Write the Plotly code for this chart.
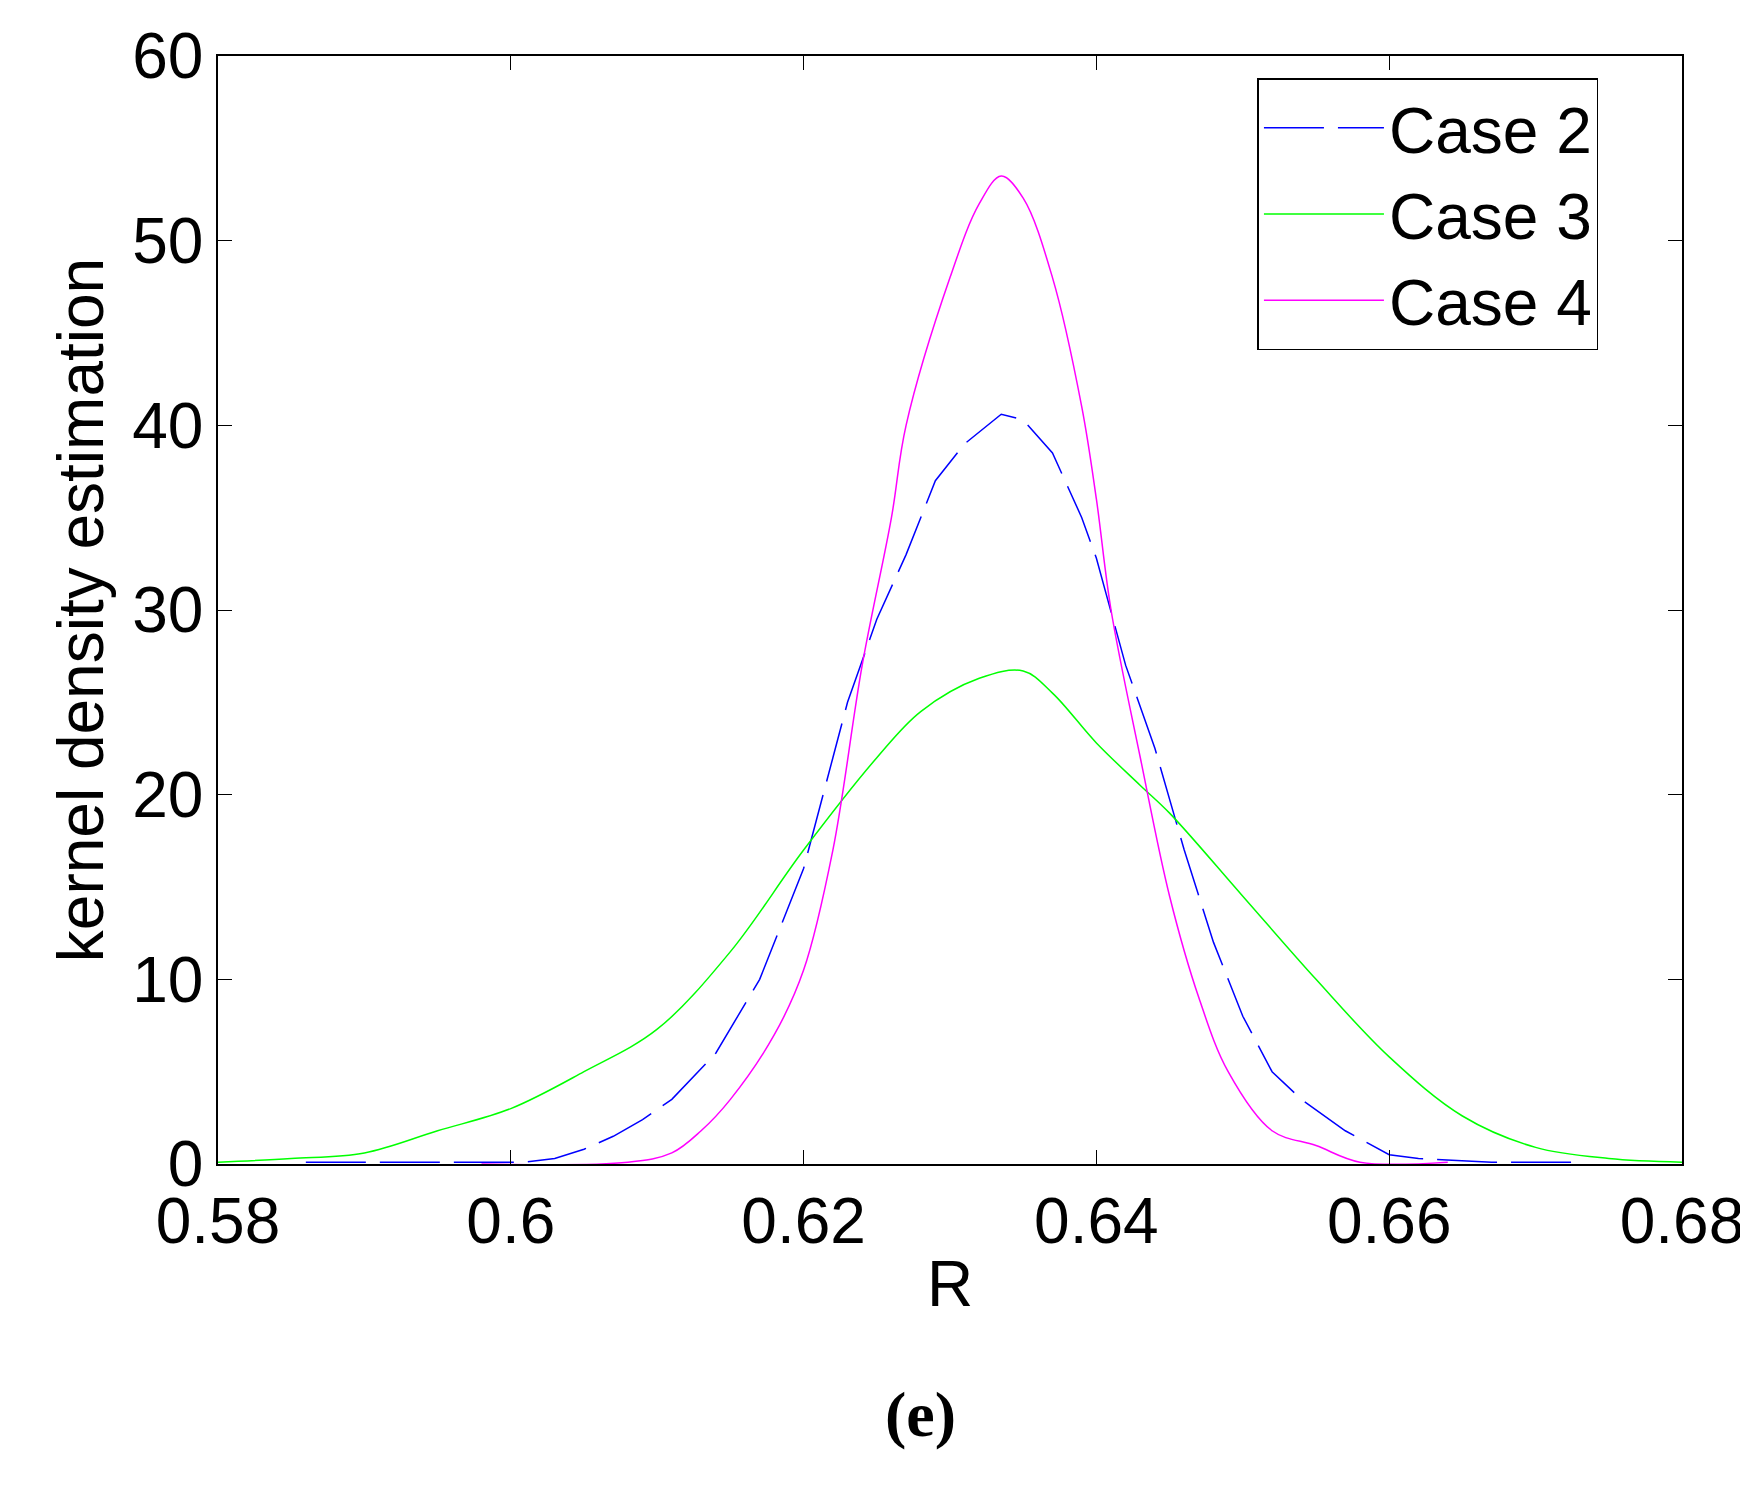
import plotly.graph_objects as go

c2_x = [0.586,0.596,0.601,0.603,0.605,0.607,0.609,0.611,0.614,0.617,0.620,0.622,0.623,0.625,0.627,0.629,0.631,0.6335,0.635,0.637,0.639,0.640,0.642,0.644,0.646,0.648,0.650,0.652,0.654,0.657,0.660,0.662,0.667,0.673]
c2_y = [0.1,0.1,0.1,0.3,0.8,1.5,2.4,3.5,6,10,16,22,25,29.5,33,37,39,40.6,40.3,38.5,35,32.8,27,22.5,17,12,8,5,3.5,1.8,0.5,0.3,0.1,0.1]
c3_x = [0.580,0.585,0.590,0.595,0.600,0.605,0.610,0.615,0.620,0.625,0.628,0.632,0.635,0.637,0.640,0.643,0.645,0.650,0.655,0.660,0.665,0.670,0.675,0.680]
c3_y = [0.1,0.3,0.6,1.8,3,5,7.3,11.5,17,22,24.5,26.3,26.7,25.5,22.8,20.5,19,14.5,10,5.8,2.6,0.9,0.3,0.1]
c4_x = [0.598,0.608,0.611,0.613,0.615,0.618,0.620,0.622,0.624,0.626,0.627,0.630,0.632,0.6335,0.635,0.637,0.639,0.640,0.641,0.643,0.645,0.647,0.649,0.652,0.655,0.658,0.664]
c4_y = [0,0.1,0.6,1.8,3.5,7,10.5,17,27,35,40,48,52,53.5,52.3,48,41,36,30,22,14.5,9,5,1.8,1,0.1,0.1]
x_ticks = [0.58,0.6,0.62,0.64,0.66,0.68]
y_ticks = [0,10,20,30,40,50,60]

fig = go.Figure()
fig.add_trace(go.Scatter(x=c2_x, y=c2_y, mode="lines", name="Case 2", line=dict(color="#0000ff", width=1.5, dash="60px,14px")))
fig.add_trace(go.Scatter(x=c3_x, y=c3_y, mode="lines", name="Case 3", line=dict(color="#00ff00", width=1.5, shape="spline")))
fig.add_trace(go.Scatter(x=c4_x, y=c4_y, mode="lines", name="Case 4", line=dict(color="#ff00ff", width=1.5, shape="spline")))

ax = dict(showgrid=False, zeroline=False, showline=True, linecolor="black", linewidth=1.5, mirror="ticks",
          ticks="inside", ticklen=14, tickcolor="black", tickfont=dict(size=64, color="black", family="Liberation Sans"))
fig.update_layout(
    width=1748, height=1485, paper_bgcolor="white", plot_bgcolor="white",
    margin=dict(l=210, r=73, t=41, b=329),
    font=dict(family="Liberation Sans", color="black"),
    xaxis=dict(ax, range=[0.58,0.68], tickvals=x_ticks, ticktext=[str(v) for v in x_ticks],
               title=dict(text="R", font=dict(size=64), standoff=6)),
    yaxis=dict(ax, range=[0,60], tickvals=y_ticks,
               title=dict(text="kernel density estimation", font=dict(size=64), standoff=8)),
    legend=dict(x=0.71, y=0.98, xanchor="left", yanchor="top", bgcolor="white", bordercolor="black", borderwidth=1.5,
                font=dict(size=64), itemwidth=120, tracegroupgap=0),
    annotations=[dict(text="<b>(e)</b>", xref="paper", yref="paper", x=0.48, y=-0.26, showarrow=False,
                      font=dict(size=64, family="Liberation Serif"))],
)
fig.write_html("out.html")
